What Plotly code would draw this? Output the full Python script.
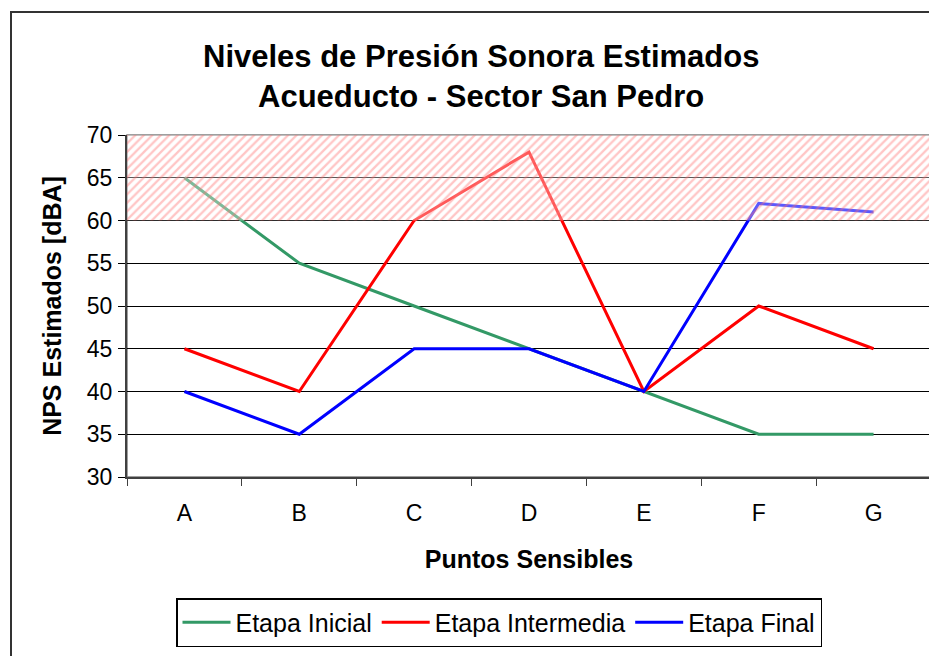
import plotly.graph_objects as go

categories = ["A", "B", "C", "D", "E", "F", "G"]
etapa_inicial = [65, 55, 50, 45, 40, 35, 35]
etapa_intermedia = [45, 40, 60, 68, 40, 50, 45]
etapa_final = [40, 35, 45, 45, 40, 62, 61]
limit_low = 60
limit_high = 70

FONT = "Liberation Sans, Arial, sans-serif"

# plot area in figure pixels
L, T, R, B = 119, 127, 923, 469
W, H = 937, 656
PW, PH = R - L, B - T

def px(x):
    return (x - L) / PW

def py(y):
    return (B - y) / PH

fig = go.Figure()
series = [
    ("Etapa Inicial", etapa_inicial, "#339966"),
    ("Etapa Intermedia", etapa_intermedia, "#FF0000"),
    ("Etapa Final", etapa_final, "#0000FF"),
]
for name, vals, col in series:
    fig.add_trace(go.Scatter(x=categories, y=vals, name=name, mode="lines",
                             line=dict(color=col, width=3)))

# hatched band of exceedance
fig.add_trace(go.Scatter(
    x=[0, 1, 1, 0, 0], y=[limit_low, limit_low, limit_high, limit_high, limit_low],
    xaxis="x2", yaxis="y", mode="lines", line=dict(width=0),
    fill="toself", fillcolor="rgba(0,0,0,0)",
    fillpattern=dict(shape="/", fgcolor="rgba(255,110,110,0.8)",
                     bgcolor="rgba(255,255,255,0.35)", size=6, solidity=0.38),
    showlegend=False, hoverinfo="skip"))

fig.update_layout(
    width=W, height=H,
    margin=dict(l=L, r=W - R, t=T, b=H - B),
    paper_bgcolor="white", plot_bgcolor="white",
    font=dict(family=FONT, color="black"),
    showlegend=True,
    legend=dict(orientation="h", x=px(491), xanchor="center", y=py(590), yanchor="top",
                bordercolor="black", borderwidth=1.5, font=dict(size=25),
                itemwidth=48, tracegroupgap=0),
    xaxis=dict(type="category", range=[-0.5, 6.5], tickson="boundaries",
               ticks="outside", ticklen=7,
               tickcolor="#404040", showline=True, linecolor="#404040", linewidth=2,
               showgrid=False, tickfont=dict(size=23), ticklabelstandoff=14,
               title=dict(text="<b>Puntos Sensibles</b>", font=dict(size=25), standoff=26)),
    xaxis2=dict(overlaying="x", range=[0, 1], visible=False),
    yaxis=dict(range=[30, 70], dtick=5, ticks="outside", ticklen=7, tickcolor="black",
               showline=True, linecolor="#404040", linewidth=2,
               showgrid=True, gridcolor="black", gridwidth=1, tickfont=dict(size=23),
               zeroline=False, ticklabelstandoff=1,
               title=dict(text="<b>NPS Estimados [dBA]</b>", font=dict(size=25), standoff=18)),
)

# plot-area border (gray) and outer chart border
fig.add_shape(type="rect", xref="paper", yref="paper", x0=0, x1=1, y0=0, y1=1,
              line=dict(color="#808080", width=1.5), layer="below")
fig.add_shape(type="rect", xref="paper", yref="paper",
              x0=px(3), x1=px(W + 20), y0=py(H + 20), y1=py(4),
              line=dict(color="#333333", width=2))

fig.add_annotation(text="<b>Niveles de Presión Sonora Estimados</b>", xref="paper", yref="paper",
                   x=px(473), y=py(48), showarrow=False,
                   font=dict(size=31), xanchor="center", yanchor="middle")
fig.add_annotation(text="<b>Acueducto - Sector San Pedro</b>", xref="paper", yref="paper",
                   x=px(473), y=py(88), showarrow=False,
                   font=dict(size=31), xanchor="center", yanchor="middle")

fig.write_html("out.html")
